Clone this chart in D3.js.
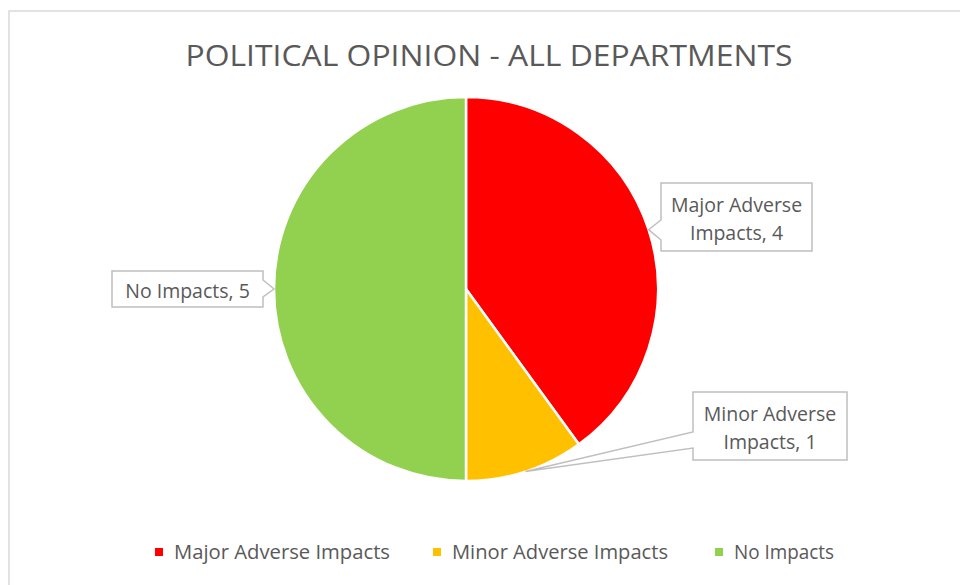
<!DOCTYPE html>
<html>
<head>
<meta charset="utf-8">
<script src="https://cdn.jsdelivr.net/npm/d3@7"></script>
<style>
  body { margin: 0; background: #fff; }
  svg text { font-family: "Open Sans", "Noto Sans", sans-serif; fill: #595959; }
</style>
</head>
<body>
<div id="chart"></div>
<script>
// chart data
var title = "POLITICAL OPINION - ALL DEPARTMENTS";
var categories = ["Major Adverse Impacts", "Minor Adverse Impacts", "No Impacts"];
var values = [4, 1, 5];
var colours = ["#FF0000", "#FFC000", "#92D050"];
var labelLines = [["Major Adverse", "Impacts, 4"], ["Minor Adverse", "Impacts, 1"], ["No Impacts, 5"]];

var width = 960, height = 585;
var cx = 466, cy = 289, radius = 192;

// label boxes (left, top, w, h) and where the pointer leaves the box
var boxes = [
  {x: 661, y: 183, w: 151, h: 68, side: "left", n0: 220, n1: 240},
  {x: 693, y: 392, w: 154, h: 68, side: "left", n0: 432, n1: 448},
  {x: 112, y: 271, w: 151, h: 36, side: "right", n0: 280, n1: 297}
];

var svg = d3.select("#chart").append("svg")
    .attr("width", width)
    .attr("height", height);

// chart area border (only top and left show in the frame)
svg.append("rect")
   .attr("x", 9).attr("y", 11)
   .attr("width", 1000).attr("height", 700)
   .attr("fill", "#fff")
   .attr("stroke", "#d9d9d9")
   .attr("stroke-width", 1.5);

// title
svg.append("text")
   .attr("x", 489).attr("y", 66)
   .attr("text-anchor", "middle")
   .attr("font-size", 29)
   .attr("textLength", 607)
   .attr("lengthAdjust", "spacingAndGlyphs")
   .text(title);

var pie = d3.pie().sort(null).value(function(d) { return d; });
var arcs = pie(values);

var arc = d3.arc().innerRadius(0).outerRadius(radius);

var g = svg.append("g")
    .attr("transform", "translate(" + cx + "," + cy + ")");

g.selectAll("path")
 .data(arcs)
 .enter().append("path")
 .attr("d", arc)
 .attr("fill", function(d, i) { return colours[i]; })
 .attr("stroke", "#fff")
 .attr("stroke-width", 2.5);

// callout labels
arcs.forEach(function(a, i) {
    var mid = (a.startAngle + a.endAngle) / 2;
    var tx = cx + radius * Math.sin(mid);
    var ty = cy - radius * Math.cos(mid);
    var b = boxes[i];
    var x0 = b.x, x1 = b.x + b.w, y0 = b.y, y1 = b.y + b.h;
    var p;
    if (b.side == "left") {
        p = [[x0, y0], [x1, y0], [x1, y1], [x0, y1], [x0, b.n1], [tx, ty], [x0, b.n0]];
    } else {
        p = [[x0, y0], [x1, y0], [x1, b.n0], [tx, ty], [x1, b.n1], [x1, y1], [x0, y1]];
    }
    svg.append("path")
       .attr("d", "M" + p.join("L") + "Z")
       .attr("fill", "#fff")
       .attr("stroke", "#bfbfbf")
       .attr("stroke-width", 1.5);

    var lines = labelLines[i];
    var lh = 28;
    var first = (y0 + y1) / 2 - (lines.length - 1) * lh / 2 + 9;
    lines.forEach(function(t, j) {
        var txt = svg.append("text")
           .attr("x", (x0 + x1) / 2)
           .attr("y", first + j * lh)
           .attr("text-anchor", "middle")
           .attr("font-size", 19.5)
           .text(t);
    });
});

// legend
var legend = svg.append("g");
var itemStarts = [155, 433, 715];
var legendWidths = [216, 216, 100];
categories.forEach(function(c, i) {
    var item = legend.append("g").attr("transform", "translate(" + itemStarts[i] + ",0)");
    item.append("rect")
        .attr("x", 0).attr("y", 548)
        .attr("width", 8).attr("height", 8)
        .attr("fill", colours[i]);
    item.append("text")
        .attr("x", 19).attr("y", 559)
        .attr("font-size", 19.5)
        .attr("textLength", legendWidths[i])
        .attr("lengthAdjust", "spacingAndGlyphs")
        .text(c);
});
</script>
</body>
</html>
